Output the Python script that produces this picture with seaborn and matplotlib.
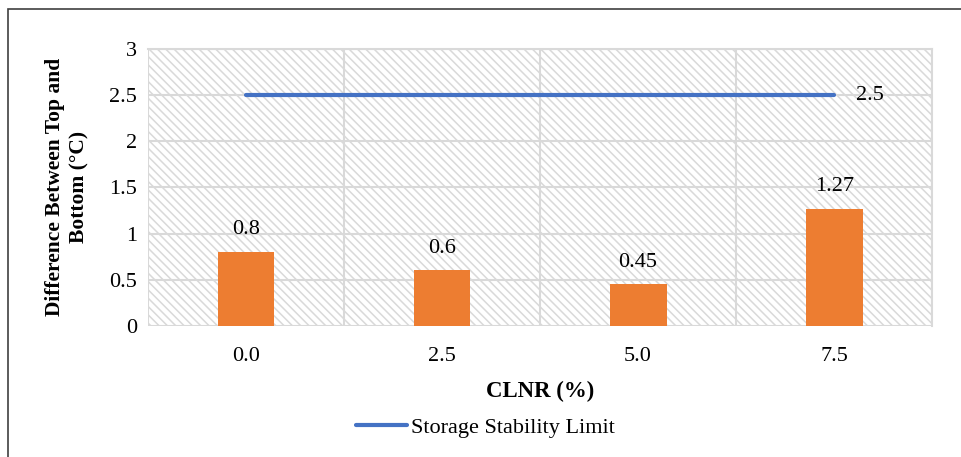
import matplotlib
matplotlib.use("Agg")
import matplotlib.pyplot as plt
import seaborn as sns
import pandas as pd
from matplotlib.patches import Rectangle
from matplotlib.lines import Line2D

# data
clnr = ["0.0", "2.5", "5.0", "7.5"]
diff_top_bottom = [0.8, 0.6, 0.45, 1.27]
limit = [2.5, 2.5, 2.5, 2.5]

sns.set_style("white")
plt.rcParams['font.family'] = ['Liberation Serif', 'DejaVu Serif']
plt.rcParams['text.color'] = 'black'
plt.rcParams['axes.labelcolor'] = 'black'
plt.rcParams['xtick.color'] = 'black'
plt.rcParams['ytick.color'] = 'black'
plt.rcParams['hatch.color'] = '#d9d9d9'
plt.rcParams['hatch.linewidth'] = 1.1

df = pd.DataFrame({"CLNR": clnr, "diff": diff_top_bottom, "limit": limit})

fig = plt.figure(figsize=(9.61, 4.57), dpi=100)
ax = fig.add_axes([0.154, 0.287, 0.816, 0.606])

# hatched plot background like the Excel chart
ax.patch.set_facecolor('white')
ax.patch.set_hatch('\\\\\\\\')
ax.patch.set_edgecolor('#d9d9d9')

sns.barplot(data=df, x="CLNR", y="diff", color='#ED7D31', width=0.29,
            saturation=1, linewidth=0, ax=ax, zorder=3)
sns.lineplot(data=df, x="CLNR", y="limit", color='#4472C4', linewidth=3,
             ax=ax, zorder=4, legend=False)

for c in ax.containers:
    ax.bar_label(c, labels=[f"{v:g}" for v in diff_top_bottom], padding=9,
                 fontsize=16)
ax.annotate(f"{limit[-1]:g}", xy=(len(clnr) - 1, limit[-1]), xytext=(16, 0),
            textcoords='offset points', va='center', ha='left', fontsize=16)

ax.set_xlim(-0.5, len(clnr) - 0.5)
ax.set_ylim(0, 3)
ax.set_yticks([0, 0.5, 1, 1.5, 2, 2.5, 3])
ax.set_yticklabels(["0", "0.5", "1", "1.5", "2", "2.5", "3"])
ax.set_xticks([i - 0.5 for i in range(len(clnr) + 1)], minor=True)
ax.grid(axis='y', color='#d9d9d9', linewidth=1.5, zorder=1)
ax.grid(axis='x', which='minor', color='#d9d9d9', linewidth=1.5, zorder=1)
ax.set_axisbelow(True)
ax.tick_params(axis='x', which='major', length=0, labelsize=16, pad=15)
ax.tick_params(axis='x', which='minor', length=5, width=1.5, color='#d9d9d9')
ax.tick_params(axis='y', length=0, labelsize=16, pad=8)
for s in ax.spines.values():
    s.set_visible(False)
for side in ['right', 'top']:
    ax.spines[side].set_visible(True)
    ax.spines[side].set_color('#d9d9d9')
    ax.spines[side].set_linewidth(1.5)

ax.set_xlabel("CLNR (%)", fontsize=16.5, fontweight='bold', labelpad=11)
ax.set_ylabel("Difference Between Top and\nBottom (°C)", fontsize=15.5,
              fontweight='bold', labelpad=14, linespacing=1.3)

handle = Line2D([], [], color='#4472C4', linewidth=3)
fig.legend([handle], ["Storage Stability Limit"], loc='center',
           bbox_to_anchor=(0.505, 0.065), frameon=False, fontsize=16,
           handlelength=2.3, handletextpad=0.15)

# outer chart border (only left and top visible in the crop)
fig.patches.append(Rectangle((8 / 961, -0.05), 1.0, 1.05 - 9 / 457,
                             transform=fig.transFigure, fill=False,
                             edgecolor='#404040', linewidth=1.2))

fig.savefig("out.png", dpi=100)
